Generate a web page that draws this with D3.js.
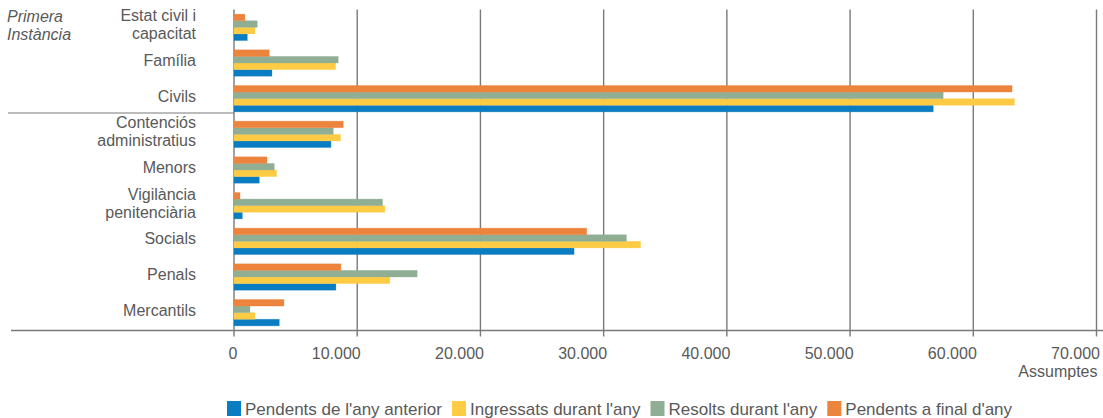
<!DOCTYPE html>
<html>
<head>
<meta charset="utf-8">
<script src="https://cdn.jsdelivr.net/npm/d3@7"></script>
<style>
  html, body { margin: 0; padding: 0; background: #fff; }
  svg { display: block; font-family: "Liberation Sans", Arial, sans-serif; }
</style>
</head>
<body>
<svg id="chart" width="1103" height="418"></svg>
<script>
// ---- data ----
const categories = [
  ["Estat civil i", "capacitat"],
  ["Família"],
  ["Civils"],
  ["Contenciós", "administratius"],
  ["Menors"],
  ["Vigilància", "penitenciària"],
  ["Socials"],
  ["Penals"],
  ["Mercantils"]
];
const seriesNames = ["Pendents de l'any anterior", "Ingressats durant l'any", "Resolts durant l'any", "Pendents a final d'any"];
const seriesColors = ["#0a7cc1", "#fecb45", "#8fae93", "#ec843e"];
const pendentsAnterior = [1080, 3080, 56750, 7870, 2055, 675, 27600, 8270, 3675];
const ingressats       = [1700, 8250, 63340, 8650, 3460, 12250, 33000, 12650, 1700];
const resolts          = [1890, 8460, 57560, 8055, 3270, 12060, 31850, 14870, 1300];
const pendentsFinal    = [890, 2865, 63150, 8870, 2680, 490, 28630, 8680, 4055];
const seriesValues = [pendentsAnterior, ingressats, resolts, pendentsFinal];
const tickValues = [0, 10000, 20000, 30000, 40000, 50000, 60000, 70000];
const tickLabels = ["0", "10.000", "20.000", "30.000", "40.000", "50.000", "60.000", "70.000"];
const groupLabel = ["Primera", "Instància"];
const axisTitle = "Assumptes";

// ---- layout ----
const svg = d3.select("#chart");
const textColor = "#595959";
const fs = 16;
const x0 = 234, x1 = 1096.5, yTop = 9.5, yBot = 330.5;

const x = d3.scaleLinear().domain([0, 70000]).range([x0, x1]);
const y = d3.scaleBand().domain(d3.range(categories.length)).range([yTop, yBot]).padding(0);
const groupH = 26.4;
const inner = d3.scaleBand().domain([3, 2, 1, 0]).range([0, groupH]).padding(0);

// gridlines
svg.append("g").selectAll("line").data(tickValues).join("line")
  .attr("x1", d => x(d)).attr("x2", d => x(d))
  .attr("y1", yTop).attr("y2", yBot + 6)
  .attr("stroke", "#7a7a7a").attr("stroke-width", 1.4);

// bars
const bandOff = (y.bandwidth() - groupH) / 2;
seriesValues.forEach((vals, s) => {
  svg.append("g").selectAll("rect").data(vals).join("rect")
    .attr("x", x(0))
    .attr("y", (d, i) => y(i) + bandOff + inner(s))
    .attr("width", d => x(d) - x(0))
    .attr("height", inner.bandwidth())
    .attr("fill", seriesColors[s])
    .attr("stroke", seriesColors[s]).attr("stroke-opacity", 0.35).attr("stroke-width", 0.8);
});

// axis baseline
svg.append("line").attr("x1", 11).attr("x2", 1103).attr("y1", yBot).attr("y2", yBot)
  .attr("stroke", "#7a7a7a").attr("stroke-width", 1.4);
// separator between groups
svg.append("line").attr("x1", 8).attr("x2", x0).attr("y1", y(3) - 3.5).attr("y2", y(3) - 3.5)
  .attr("stroke", "#7a7a7a").attr("stroke-width", 1.2);

// category labels
const labG = svg.append("g").attr("fill", textColor).attr("font-size", fs).attr("text-anchor", "end");
const lh = 18;
categories.forEach((lines, i) => {
  const cy = y(i) + y.bandwidth() / 2;
  const first = cy + 3 - (lines.length - 1) * lh / 2;
  lines.forEach((t, j) => {
    labG.append("text").attr("x", 196).attr("y", first + j * lh).text(t);
  });
});

// group label
groupLabel.forEach((t, j) => {
  svg.append("text").attr("x", 7).attr("y", 21.5 + j * lh)
    .attr("fill", textColor).attr("font-size", fs).attr("font-style", "italic").text(t);
});

// tick labels
svg.append("g").selectAll("text").data(tickValues).join("text")
  .attr("x", d => x(d) + 3.5).attr("y", 359)
  .attr("text-anchor", "end").attr("fill", textColor).attr("font-size", fs)
  .text((d, i) => tickLabels[i]);
svg.append("text").attr("x", x1 + 1).attr("y", 377).attr("text-anchor", "end")
  .attr("fill", textColor).attr("font-size", fs).text(axisTitle);

// legend
const leg = svg.append("g");
let lx = 227;
seriesNames.forEach((name, s) => {
  leg.append("rect").attr("x", lx).attr("y", 401).attr("width", 14).attr("height", 15).attr("fill", seriesColors[s]);
  const t = leg.append("text").attr("x", lx + 18).attr("y", 414.5).attr("fill", textColor).attr("font-size", 17).text(name);
  lx += 18 + t.node().getComputedTextLength() + 10;
});
</script>
</body>
</html>
